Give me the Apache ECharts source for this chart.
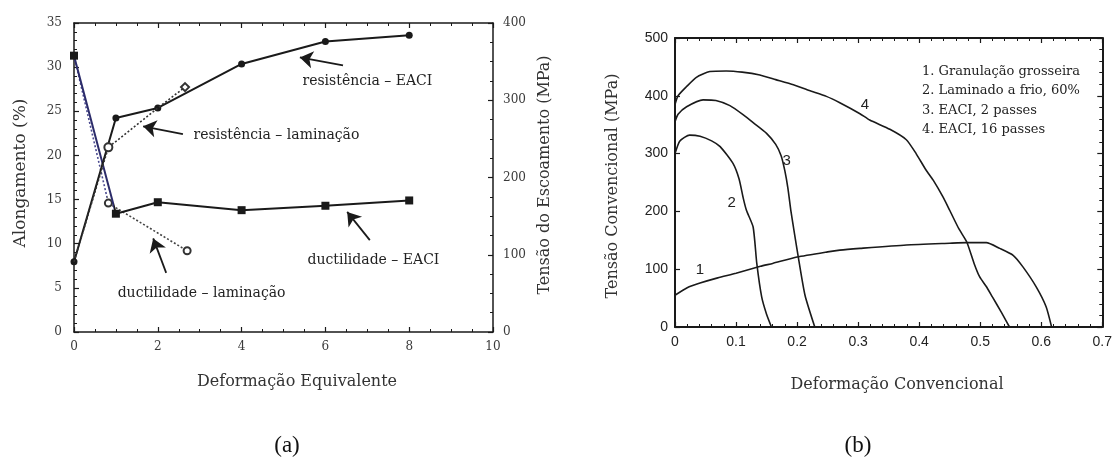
<!DOCTYPE html>
<html>
<head>
<meta charset="utf-8">
<script src="https://cdn.jsdelivr.net/npm/echarts@6/dist/echarts.min.js"></script>
<style>
  html, body { margin: 0; padding: 0; background: #fff; }
  #chart { width: 1115px; height: 467px; }
</style>
</head>
<body>
<div id="chart"></div>
<script>
// ---------- (a) Alongamento / tensão de escoamento vs deformação equivalente ----------
const eqStrain = [0, 1, 2, 4, 6, 8];
const ductilityEACI = [31.3, 13.4, 14.7, 13.8, 14.3, 14.9];      // %
const strengthEACI = [91, 277, 290, 347, 376, 384];              // MPa

const rolledStrainStrength = [0, 0.82, 2, 2.65];
const strengthRolled = [91, 239, 290, 317];                      // MPa
const strengthRolledMarks = ['none', 'emptyCircle', 'none', 'emptyDiamond'];

const rolledStrainDuct = [0, 0.82, 2.7];
const ductilityRolled = [31.3, 14.6, 9.2];                       // %
const ductilityRolledMarks = ['none', 'emptyCircle', 'emptyCircle'];

const ticksA_x = [0, 10, 2];
const ticksA_left = [0, 35, 5];
const ticksA_right = [0, 400, 100];

// annotations of panel (a): [text, x, y(%)] and arrows [x1, y1, x2, y2] in (strain, %)
const notesA = [
  ['resistência – EACI', 5.44, 28.4],
  ['resistência – laminação', 2.84, 22.3],
  ['ductilidade – EACI', 5.56, 8.15],
  ['ductilidade – laminação', 1.03, 4.4]
];
const arrowsA = [
  [6.42, 30.2, 5.39, 31.1],
  [2.60, 22.4, 1.65, 23.3],
  [7.06, 10.4, 6.52, 13.6],
  [2.20, 6.7, 1.89, 10.6]
];

// ---------- (b) Tensão convencional vs deformação convencional ----------
const c1Strain = [0, 0.02, 0.041, 0.07, 0.1, 0.14, 0.16, 0.2, 0.25, 0.27, 0.303, 0.379, 0.45, 0.478, 0.51, 0.532, 0.554, 0.57, 0.592, 0.608, 0.617];
const c1Stress = [55, 68, 76, 85, 93, 105, 110, 121, 130, 133, 136, 142, 145, 146, 146, 136, 124, 104, 69, 35, 0];

const c2Strain = [0, 0.008, 0.024, 0.041, 0.06, 0.074, 0.095, 0.105, 0.112, 0.117, 0.128, 0.134, 0.142, 0.15, 0.158];
const c2Stress = [300, 322, 332, 330, 322, 312, 283, 256, 222, 202, 173, 110, 52, 22, 0];

const c3Strain = [0, 0.005, 0.019, 0.046, 0.067, 0.09, 0.112, 0.13, 0.15, 0.165, 0.174, 0.18, 0.185, 0.19, 0.196, 0.202, 0.213, 0.229];
const c3Stress = [355, 368, 381, 393, 392, 383, 367, 352, 335, 316, 296, 270, 240, 200, 160, 121, 55, 0];

const c4Strain = [0, 0.005, 0.019, 0.035, 0.057, 0.084, 0.11, 0.139, 0.165, 0.194, 0.22, 0.248, 0.27, 0.303, 0.319, 0.352, 0.379, 0.395, 0.411, 0.423, 0.439, 0.45, 0.465, 0.478, 0.49, 0.499, 0.51, 0.52, 0.535, 0.548];
const c4Stress = [385, 400, 416, 432, 442, 443, 441, 436, 428, 419, 409, 399, 388, 369, 358, 342, 324, 300, 272, 254, 225, 202, 170, 147, 110, 87, 70, 52, 25, 0];

const curveLabels = [['1', 0.041, 98], ['2', 0.093, 214], ['3', 0.183, 287], ['4', 0.311, 384]];
const legendLines = ['1. Granulação grosseira', '2. Laminado a frio, 60%', '3. EACI, 2 passes', '4. EACI, 16 passes'];

const ticksB_x = [0, 0.7, 0.1];
const ticksB_y = [0, 500, 100];

// ---------- helpers ----------
const pairs = (xs, ys) => xs.map((x, i) => [x, ys[i]]);
const INK = '#1a1a1a';
const SERIF = '"DejaVu Serif", "Liberation Serif", serif';
const SANS = '"Liberation Sans", Arial, sans-serif';

function axis(kind, gridIndex, position, range, o) {
  o = o || {};
  return {
    type: 'value', gridIndex, position,
    min: range[0], max: range[1], interval: range[2],
    axisLine: { show: true, onZero: false, lineStyle: { color: INK, width: o.lineWidth || 1.5 } },
    axisTick: { show: true, inside: true, length: 5, lineStyle: { color: INK, width: 1.2 } },
    minorTick: o.minor ? { show: true, splitNumber: o.minor, length: 3, lineStyle: { color: INK, width: 1 } } : { show: false },
    splitLine: { show: false },
    axisLabel: o.labels ? Object.assign({ show: true, color: '#333' }, o.labels) : { show: false }
  };
}

const chart = echarts.init(document.getElementById('chart'), null, { renderer: 'canvas' });

const labelA = { fontFamily: SERIF, fontSize: 12, margin: 9, color: '#3a3a3a' };
const labelB = { fontFamily: SANS, fontSize: 14, margin: 7, color: '#222' };

const option = {
  animation: false,
  backgroundColor: '#fff',
  grid: [
    { left: 74, top: 23, width: 419, height: 309 },
    { left: 675, top: 38, width: 428, height: 289 }
  ],
  xAxis: [
    axis('x', 0, 'bottom', ticksA_x, { minor: 4, labels: labelA }),
    axis('x', 0, 'top', ticksA_x, { minor: 4 }),
    axis('x', 1, 'bottom', ticksB_x, { minor: 5, lineWidth: 2, labels: Object.assign({}, labelB, { margin: 8 }) }),
    axis('x', 1, 'top', ticksB_x, { minor: 5, lineWidth: 2 })
  ],
  yAxis: [
    axis('y', 0, 'left', ticksA_left, { minor: 5, labels: Object.assign({}, labelA, { margin: 12 }) }),
    axis('y', 0, 'right', ticksA_right, { minor: 4, labels: Object.assign({}, labelA, { margin: 10 }) }),
    axis('y', 1, 'left', ticksB_y, { lineWidth: 2, labels: labelB }),
    axis('y', 1, 'right', ticksB_y, { minor: 5, lineWidth: 2 })
  ],
  series: [
    {
      name: 'ductilidade – laminação', type: 'line', xAxisIndex: 0, yAxisIndex: 0,
      data: rolledStrainDuct.map((x, i) => ({ value: [x, ductilityRolled[i]], symbol: ductilityRolledMarks[i] })),
      symbolSize: 7, showSymbol: true,
      lineStyle: {
        width: 1.6, type: [2, 2],
        color: new echarts.graphic.LinearGradient(0, 0, 1, 0, [
          { offset: 0, color: '#4a4a90' }, { offset: 0.3, color: '#4a4a90' },
          { offset: 0.3, color: '#444' }, { offset: 1, color: '#444' }
        ])
      },
      itemStyle: { color: '#333', borderWidth: 1.2 },
      z: 2
    },
    {
      name: 'resistência – laminação', type: 'line', xAxisIndex: 0, yAxisIndex: 1,
      data: rolledStrainStrength.map((x, i) => ({ value: [x, strengthRolled[i]], symbol: strengthRolledMarks[i] })),
      symbolSize: 8, showSymbol: true,
      lineStyle: { color: '#333', width: 1.6, type: [2, 2] },
      itemStyle: { color: '#333', borderWidth: 1.2 },
      z: 4
    },
    {
      name: 'ductilidade – EACI', type: 'line', xAxisIndex: 0, yAxisIndex: 0,
      data: pairs(eqStrain, ductilityEACI),
      symbol: 'rect', symbolSize: 8, showSymbol: true,
      lineStyle: {
        width: 2,
        color: new echarts.graphic.LinearGradient(0, 0, 1, 0, [
          { offset: 0, color: '#2c2c6a' }, { offset: 0.125, color: '#2c2c6a' },
          { offset: 0.125, color: INK }, { offset: 1, color: INK }
        ])
      },
      itemStyle: { color: INK },
      markLine: {
        silent: true, animation: false,
        symbol: ['none', 'arrow'], symbolSize: 13,
        label: { show: false },
        lineStyle: { color: INK, width: 1.8, type: 'solid' },
        data: arrowsA.map(a => [{ coord: [a[0], a[1]] }, { coord: [a[2], a[3]] }])
      },
      markPoint: {
        silent: true, animation: false,
        data: notesA.map(n => ({
          coord: [n[1], n[2]], symbol: 'circle', symbolSize: 1,
          itemStyle: { color: 'rgba(0,0,0,0)' },
          label: {
            show: true, formatter: n[0], position: 'right', distance: 0,
            fontFamily: SERIF, fontSize: 14, color: '#222'
          }
        }))
      },
      z: 3
    },
    {
      name: 'resistência – EACI', type: 'line', xAxisIndex: 0, yAxisIndex: 1,
      data: pairs(eqStrain, strengthEACI),
      symbol: 'circle', symbolSize: 7, showSymbol: true,
      lineStyle: { color: INK, width: 2 },
      itemStyle: { color: INK },
      z: 3
    },
    ...[[c1Strain, c1Stress], [c2Strain, c2Stress], [c3Strain, c3Stress], [c4Strain, c4Stress]].map((c, k) => ({
      name: legendLines[k], type: 'line', xAxisIndex: 2, yAxisIndex: 2,
      data: pairs(c[0], c[1]),
      showSymbol: false, smooth: 0.2,
      lineStyle: { color: INK, width: 1.6 },
      markPoint: {
        silent: true, animation: false,
        data: [{
          coord: [curveLabels[k][1], curveLabels[k][2]], symbol: 'circle', symbolSize: 1,
          itemStyle: { color: 'rgba(0,0,0,0)' },
          label: { show: true, formatter: curveLabels[k][0], position: 'inside',
                   fontFamily: SANS, fontSize: 15, color: '#222' }
        }]
      }
    }))
  ],
  graphic: [
    { type: 'text', x: 21, y: 173, rotation: Math.PI / 2,
      style: { text: 'Alongamento (%)', font: '17px ' + SERIF, fill: '#333', align: 'center', verticalAlign: 'middle' } },
    { type: 'text', x: 545, y: 175, rotation: Math.PI / 2,
      style: { text: 'Tensão do Escoamento (MPa)', font: '16px ' + SERIF, fill: '#333', align: 'center', verticalAlign: 'middle' } },
    { type: 'text', x: 297, y: 382,
      style: { text: 'Deformação Equivalente', font: '16px ' + SERIF, fill: '#333', align: 'center', verticalAlign: 'middle' } },
    { type: 'text', x: 613, y: 186, rotation: Math.PI / 2,
      style: { text: 'Tensão Convencional (MPa)', font: '16px ' + SERIF, fill: '#333', align: 'center', verticalAlign: 'middle' } },
    { type: 'text', x: 897, y: 385,
      style: { text: 'Deformação Convencional', font: '16px ' + SERIF, fill: '#333', align: 'center', verticalAlign: 'middle' } },
    { type: 'text', x: 287, y: 446,
      style: { text: '(a)', font: '23px "Liberation Serif", serif', fill: '#111', align: 'center', verticalAlign: 'middle' } },
    { type: 'text', x: 858, y: 446,
      style: { text: '(b)', font: '23px "Liberation Serif", serif', fill: '#111', align: 'center', verticalAlign: 'middle' } },
    ...legendLines.map((t, i) => ({
      type: 'text', x: 922, y: [72, 91, 111, 130][i],
      style: { text: t, font: '13px ' + SERIF, fill: '#222', align: 'left', verticalAlign: 'middle' }
    }))
  ]
};

chart.setOption(option);
</script>
</body>
</html>
